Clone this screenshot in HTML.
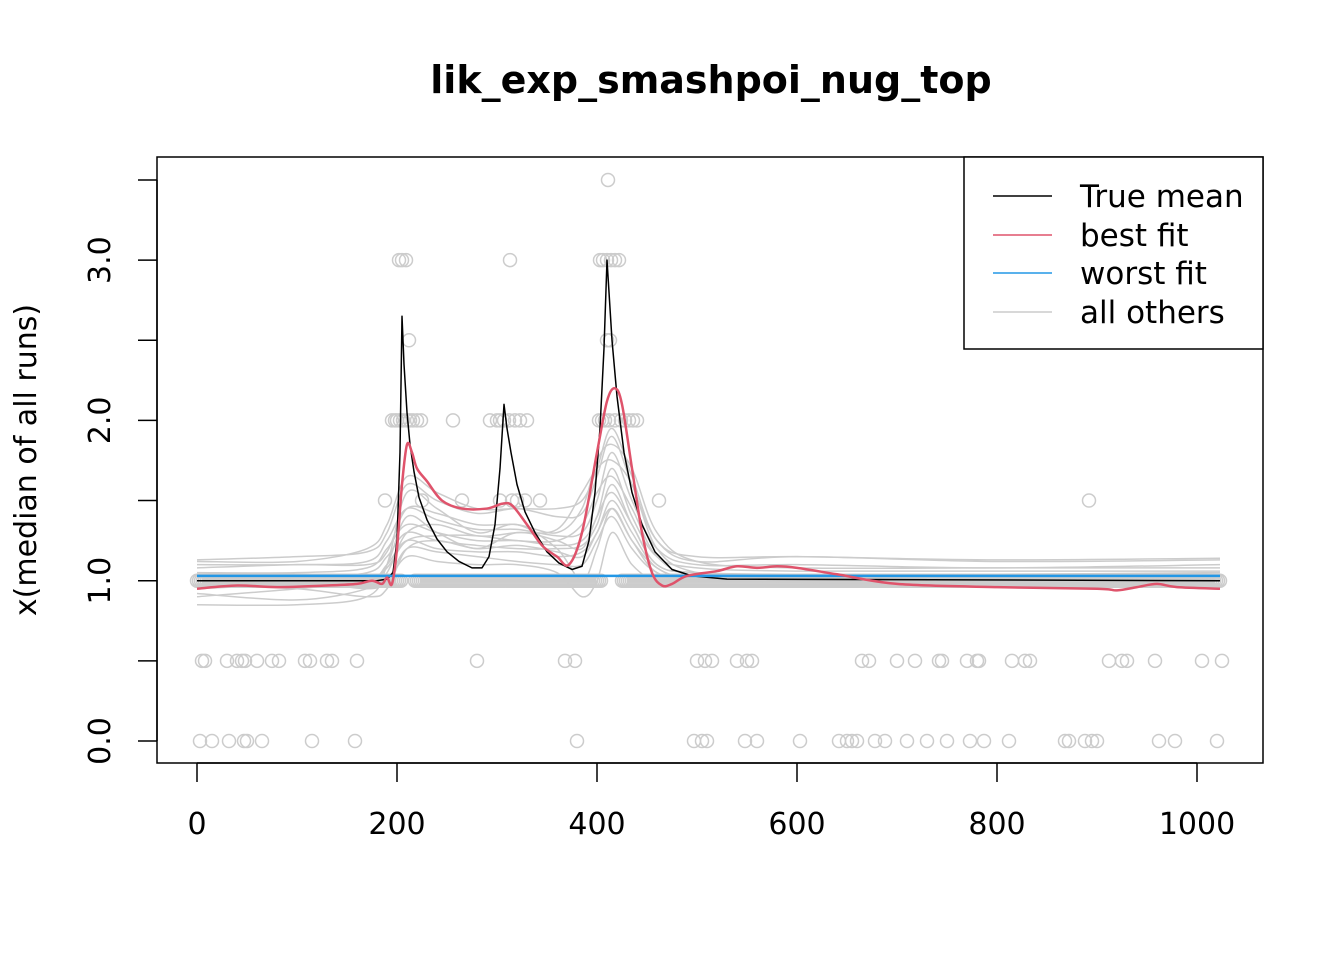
<!DOCTYPE html>
<html><head><meta charset="utf-8"><style>
html,body{margin:0;padding:0;background:#fff}
svg{display:block;font-family:"DejaVu Sans","Liberation Sans",sans-serif}
</style></head><body>
<svg id="chart" width="1344" height="960" xmlns="http://www.w3.org/2000/svg">
<text x="711" y="93" text-anchor="middle" font-size="38" font-weight="bold">lik_exp_smashpoi_nug_top</text>
<rect x="157" y="157" width="1106" height="606" fill="none" stroke="#000" stroke-width="1.5"/>
<g id="pts"></g>
<g id="lines"></g>
<g id="axes"></g>
<text transform="translate(36,460) rotate(-90)" text-anchor="middle" font-size="30">x(median of all runs)</text>
<g>
<rect x="964" y="157" width="299" height="192" fill="#fff" stroke="#000" stroke-width="1.5"/>
<line x1="993" y1="196" x2="1052" y2="196" stroke="#000" stroke-width="1.5"/>
<text x="1080" y="207" font-size="31">True mean</text>
<line x1="993" y1="235" x2="1052" y2="235" stroke="#DF536B" stroke-width="1.5"/>
<text x="1080" y="246" font-size="31">best fit</text>
<line x1="993" y1="273" x2="1052" y2="273" stroke="#2297E6" stroke-width="1.5"/>
<text x="1080" y="284" font-size="31">worst fit</text>
<line x1="993" y1="312" x2="1052" y2="312" stroke="#cccccc" stroke-width="1.5"/>
<text x="1080" y="323" font-size="31">all others</text>
</g>
</svg>
<script>
const xTicks=[0,200,400,600,800,1000];
const yTicks=[0,0.5,1,1.5,2,2.5,3,3.5];
const yLabels=["0.0","","1.0","","2.0","","3.0",""];
const trueX=[0,180,190,196,200,203,205,207,210,213,217,222,230,240,250,262,275,285,292,298,303,307,310,314,320,328,338,350,362,375,385,392,398,403,407,410,412,415,420,427,435,445,458,475,495,530,1023];
const trueY=[1,1.0,1.01,1.05,1.25,1.8,2.65,2.35,2.05,1.85,1.68,1.52,1.38,1.26,1.18,1.12,1.08,1.08,1.15,1.35,1.7,2.1,1.95,1.8,1.6,1.43,1.3,1.18,1.11,1.07,1.09,1.25,1.55,1.95,2.45,3.0,2.8,2.5,2.15,1.8,1.55,1.35,1.18,1.07,1.03,1.01,1];
const bestX=[0,40,80,130,160,175,185,190,195,200,205,210,215,220,230,245,265,290,305,315,330,345,360,372,385,400,410,418,425,435,445,455,465,475,490,520,540,560,580,600,640,700,800,900,920,940,960,980,1023];
const bestY=[0.95,0.97,0.96,0.97,0.98,1.0,0.98,1.02,0.98,1.2,1.6,1.85,1.8,1.7,1.62,1.5,1.45,1.45,1.48,1.47,1.35,1.22,1.15,1.1,1.3,1.8,2.12,2.2,2.1,1.7,1.3,1.05,0.97,0.98,1.03,1.06,1.09,1.08,1.09,1.08,1.04,0.98,0.96,0.95,0.94,0.96,0.98,0.96,0.95];
const worstX=[0,1023];
const worstY=[1.03,1.03];
const grayX=[0,100,170,190,210,240,280,320,360,385,400,415,435,460,500,600,800,1023];
const grayY1=[1.13,1.15,1.18,1.3,1.6,1.5,1.42,1.45,1.4,1.42,1.65,1.9,1.6,1.25,1.12,1.15,1.12,1.13];
const grayY2=[1.1,1.1,1.12,1.25,1.45,1.38,1.32,1.32,1.28,1.3,1.5,1.8,1.5,1.2,1.1,1.1,1.08,1.1];
const grayY3=[1.05,1.05,1.08,1.2,1.35,1.3,1.25,1.25,1.22,1.25,1.4,1.7,1.4,1.15,1.08,1.06,1.06,1.06];
const grayY4=[1.0,1.02,1.05,1.15,1.3,1.25,1.22,1.2,1.2,1.22,1.35,1.6,1.35,1.1,1.05,1.04,1.04,1.05];
const grayY5=[0.95,0.98,1.0,1.1,1.25,1.2,1.18,1.18,1.15,1.18,1.3,1.5,1.3,1.08,1.02,1.02,1.02,1.03];
const grayY6=[0.92,0.88,0.95,1.05,1.3,1.35,1.28,1.3,1.32,1.55,1.7,1.75,1.6,1.2,1.05,1.0,1.0,0.98];
const grayY7=[0.85,0.85,0.9,1.1,1.55,1.45,1.3,1.35,1.2,1.0,1.2,1.45,1.25,1.05,1.0,1.0,0.98,0.97];
const grayY8=[0.98,0.97,0.96,1.0,1.2,1.18,1.15,1.12,1.1,1.1,1.25,1.4,1.2,1.05,1.0,1.0,1.0,1.0];
const grayY9=[1.08,1.1,1.1,1.18,1.45,1.42,1.35,1.35,1.3,1.45,1.75,1.85,1.7,1.3,1.12,1.08,1.08,1.08];
const grayY10=[1.02,1.0,0.95,1.0,1.15,1.12,1.1,1.1,1.05,0.9,1.0,1.3,1.1,1.0,1.0,0.99,0.98,1.0];
const grayY11=[1.12,1.12,1.2,1.35,1.65,1.55,1.45,1.45,1.45,1.5,1.7,1.95,1.65,1.25,1.15,1.15,1.13,1.14];
const grayY12=[0.9,0.95,1.0,1.08,1.25,1.28,1.28,1.25,1.25,1.35,1.55,1.65,1.45,1.15,1.03,1.02,1.0,1.0];
const grayY13=[1.0,0.98,1.0,1.1,1.4,1.3,1.2,1.3,1.25,1.2,1.4,1.55,1.35,1.1,1.05,1.03,1.02,1.02];
const grayY14=[0.97,0.95,0.9,0.95,1.2,1.25,1.2,1.22,1.18,1.15,1.3,1.45,1.25,1.08,1.0,1.0,1.0,1.01];
const grayYs=[grayY1,grayY2,grayY3,grayY4,grayY5,grayY6,grayY7,grayY8,grayY9,grayY10,grayY11,grayY12,grayY13,grayY14];
const ptsOneRanges=[[0,205],[218,405],[425,1023]];
const pts0=[3,15,32,47,50,65,115,158,380,497,505,510,548,560,603,642,650,655,660,678,688,710,730,750,773,787,812,868,872,888,895,900,962,978,1020];
const pts05=[5,8,30,40,45,48,60,75,82,108,113,130,135,160,280,368,378,500,508,515,540,550,555,665,672,700,718,742,745,770,780,782,815,828,833,912,925,930,958,1005,1025];
const pts15=[188,225,265,303,315,320,328,343,462,892];
const pts2=[195,198,200,203,206,210,213,216,220,224,256,293,300,303,307,312,318,323,330,402,405,408,412,418,424,428,432,436,440];
const pts25=[212,410,413];
const pts3=[202,205,209,313,403,406,410,414,418,422];
const pts35=[411];

const NS="http://www.w3.org/2000/svg";
const sx=v=>197+v*1.0;
const sy=v=>741-v*160.3;
function mk(tag,attrs,parent){const e=document.createElementNS(NS,tag);for(const k in attrs)e.setAttribute(k,attrs[k]);parent.appendChild(e);return e;}
const axes=document.getElementById('axes');
let xa=mk('line',{x1:sx(0),y1:763,x2:sx(1000),y2:763,stroke:'#000','stroke-width':1.5},axes);


xTicks.forEach(t=>{
  let l=mk('line',{x1:sx(t),y1:763,x2:sx(t),y2:782,stroke:'#000','stroke-width':1.5},axes);
  
  
  let tx=mk('text',{x:sx(t),y:834,'text-anchor':'middle','font-size':30},axes);
  
  
  tx.textContent=String(t);
});
let ya=mk('line',{x1:157,y1:sy(0),x2:157,y2:sy(3.5),stroke:'#000','stroke-width':1.5},axes);


yTicks.forEach((t,i)=>{
  let l=mk('line',{x1:138,y1:sy(t),x2:157,y2:sy(t),stroke:'#000','stroke-width':1.5},axes);
  
  
  if(yLabels[i]){
    let tx=mk('text',{transform:`translate(110,${sy(t)}) rotate(-90)`,'text-anchor':'middle','font-size':30},axes);
    
    
    tx.textContent=yLabels[i];
  }
});
const pg=document.getElementById('pts');
function pt(x,y){
  let c=mk('circle',{cx:sx(x),cy:sy(y),r:6.5,fill:'none',stroke:'#cccccc','stroke-width':1.5},pg);
  
  
}
ptsOneRanges.forEach(r=>{for(let x=r[0];x<=r[1];x+=2)pt(x,1);});
[[pts0,0],[pts05,0.5],[pts15,1.5],[pts2,2],[pts25,2.5],[pts3,3],[pts35,3.5]].forEach(([a,v])=>a.forEach(x=>pt(x,v)));
const lg=document.getElementById('lines');
function smooth(xs,ys){
  const p=xs.map((x,i)=>[sx(x),sy(ys[i])]);
  let d=`M${p[0][0]},${p[0][1]}`;
  for(let i=0;i<p.length-1;i++){
    const p0=p[i-1]||p[i],p1=p[i],p2=p[i+1],p3=p[i+2]||p2;
    const c1=[p1[0]+(p2[0]-p0[0])/6,p1[1]+(p2[1]-p0[1])/6];
    const c2=[p2[0]-(p3[0]-p1[0])/6,p2[1]-(p3[1]-p1[1])/6];
    d+=` C${c1[0]},${c1[1]} ${c2[0]},${c2[1]} ${p2[0]},${p2[1]}`;
  }
  return d;
}
function poly(xs,ys){return xs.map((x,i)=>(i?'L':'M')+sx(x)+','+sy(ys[i])).join(' ');}
grayYs.forEach(ys=>{
  let p=mk('path',{d:smooth(grayX,ys),fill:'none',stroke:'#cccccc','stroke-width':1.5},lg);
  
  
});
let tm=mk('path',{d:poly(trueX,trueY),fill:'none',stroke:'#000','stroke-width':1.5,'stroke-linejoin':'round'},lg);


let wf=mk('path',{d:poly(worstX,worstY),fill:'none',stroke:'#2297E6','stroke-width':2.5},lg);


let bf=mk('path',{d:smooth(bestX,bestY),fill:'none',stroke:'#DF536B','stroke-width':2.5},lg);


</script>
</body></html>
